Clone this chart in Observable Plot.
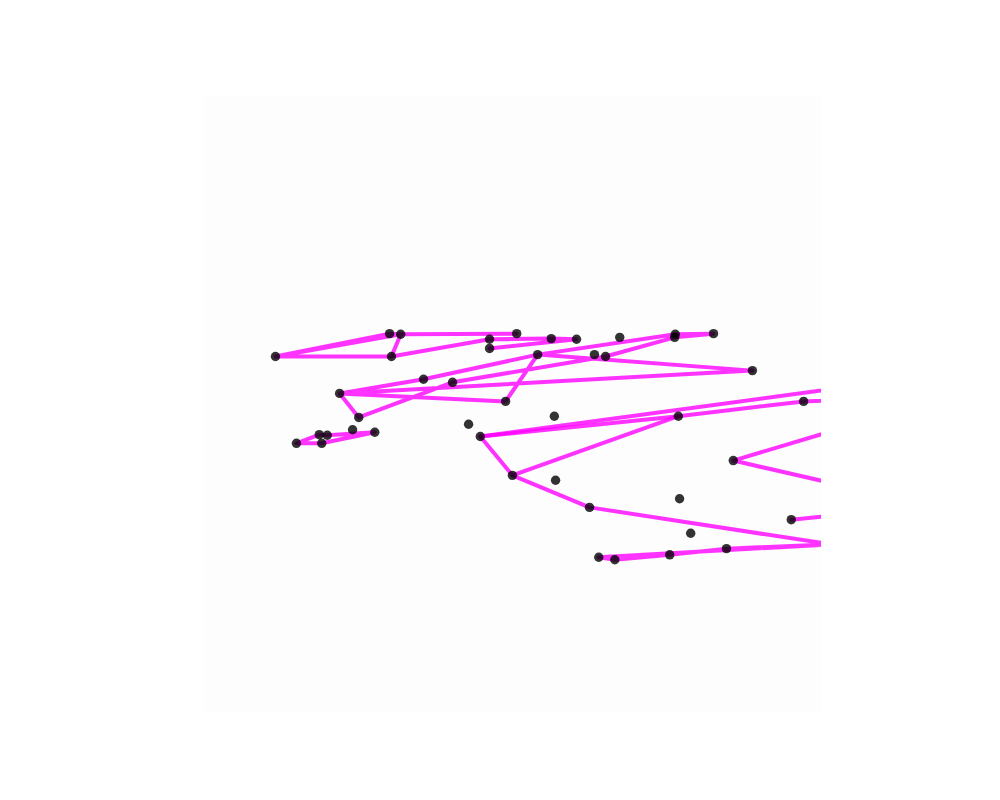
<!DOCTYPE html>
<html>
<head>
<meta charset="utf-8">
<script src="https://cdn.jsdelivr.net/npm/d3@7"></script>
<script src="https://cdn.jsdelivr.net/npm/@observablehq/plot@0.6"></script>
<style>
  html, body { margin: 0; padding: 0; background: #ffffff; }
  #chart { width: 1000px; height: 800px; }
</style>
</head>
<body>
<div id="chart"></div>
<script>
// Point labels and their values (x, y)
const pointIds = ["A","B","C","D","E","F","G","H","I","J","K","L","M","N","O","P","Q","R","S","T","U","V","W","X","Y","Z",
  "AA","AB","AC","AD","AE","AF","AG","AH","AI","AJ","AK","AL",
  "a1","a2","a3","a4","a5","a6",
  "offA","offB","offC","off1"];
const xValues = [11.5,30.0,31.8,50.6,30.3,46.2,46.2,56.2,60.3,67.3,76.3,76.2,82.5,54.0,63.2,65.0,88.8,35.5,40.2,21.9,48.8,25.0,42.8,44.7,56.7,76.8,
  97.1,85.7,77.0,95.1,78.8,84.6,75.4,49.9,56.9,62.4,63.9,66.5,
  14.9,18.6,19.9,24.0,27.6,19.0,
  121.1,129.0,117.5,101.5];
const yValues = [57.8,61.5,61.4,61.5,57.8,60.6,59.1,60.7,60.6,60.9,61.4,60.9,61.5,58.1,58.1,57.8,55.5,54.1,53.6,51.8,50.5,47.9,46.8,44.8,48.1,48.1,
  50.5,40.9,34.7,31.3,29.1,26.6,25.6,38.5,37.7,33.3,25.2,24.8,
  43.7,45.1,45.0,45.9,45.5,43.7,
  51.5,56.2,33.6,27.3];

// Connected sequences (by point label)
const paths = [
  ["D","C","A","B","C","E","A"],
  ["E","F","H","I","G"],
  ["Q","T","U","N","R","T","V","S","P","L","M","K","N","Q"],
  ["a6","a1","a2","a3","a5","a6"],
  ["AD","offC","AB","offA","AA","Z","AH","X","offB"],
  ["X","Z"],
  ["AH","AJ","off1","AF","AG","AL","AK","off1"]
];

const points = pointIds.map((id, i) => ({id, x: xValues[i], y: yValues[i]}));
const byId = new Map(points.map(p => [p.id, p]));
const lineData = paths.flatMap((seq, g) => seq.map(id => ({...byId.get(id), g})));

const chart = Plot.plot({
  width: 1000,
  height: 800,
  marginTop: 96,
  marginRight: 179,
  marginBottom: 88,
  marginLeft: 204,
  x: {domain: [0, 100], axis: null},
  y: {domain: [0, 100], axis: null},
  marks: [
    Plot.frame({fill: "#fdfdfd", stroke: "none"}),
    Plot.line(lineData, {x: "x", y: "y", z: "g", stroke: "#ff00ff", strokeOpacity: 0.8, strokeWidth: 4, clip: true}),
    Plot.dot(points, {x: "x", y: "y", r: 4.7, fill: "black", fillOpacity: 0.8, clip: true})
  ]
});
document.getElementById("chart").appendChild(chart);
</script>
</body>
</html>
